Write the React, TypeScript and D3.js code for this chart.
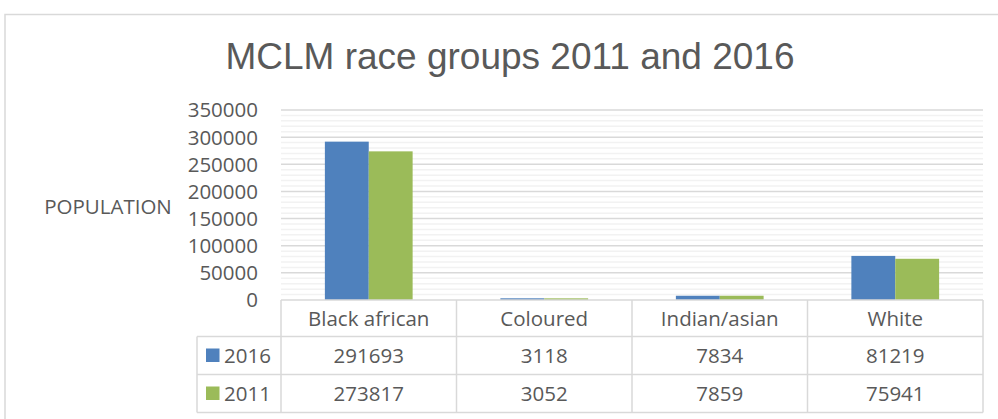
import React from "react";
import * as d3 from "d3";

const categories = ["Black african", "Coloured", "Indian/asian", "White"];
const seriesNames = ["2016", "2011"];
const values2016 = [291693, 3118, 7834, 81219];
const values2011 = [273817, 3052, 7859, 75941];
const seriesColors = ["#4f81bd", "#9bbb59"];
const yTicks = [0, 50000, 100000, 150000, 200000, 250000, 300000, 350000];
const minorTicks = d3.range(0, 350001, 10000);
const title = "MCLM race groups 2011 and 2016";
const yTitle = "POPULATION";

const W = 998;
const H = 419;
const plotLeft = 281;
const plotRight = 983;
const plotTop = 110;
const plotBottom = 300;
const legendLeft = 197;
const rowH = [300, 336.5, 374.5, 412.5];
const textColor = "#595959";
const gridMajor = "#d9d9d9";
const gridMinor = "#f2f2f2";
const font = "'Open Sans', 'Noto Sans', sans-serif";

export default function App() {
  const seriesValues = [values2016, values2011];
  const y = d3.scaleLinear().domain([0, 350000]).range([plotBottom, plotTop]);
  const x = d3.scaleBand<string>().domain(categories).range([plotLeft, plotRight]).paddingInner(0);
  const groupW = x.bandwidth() * 0.5;
  const x1 = d3.scaleBand<string>().domain(seriesNames).range([0, groupW]);
  const groupOff = (x.bandwidth() - groupW) / 2;

  return (
    <svg width={W} height={H} style={{ position: "absolute", left: 0, top: 0, display: "block", background: "#fff" }}>
      <rect x={5} y={14.5} width={W + 10} height={H + 10} fill="#fff" stroke="#d9d9d9" strokeWidth={1.5} />
      <text x={510} y={69} textAnchor="middle" fontFamily="'Liberation Sans', Arial, sans-serif" fontSize={37} fill={textColor}>
        {title}
      </text>
      {/* minor gridlines */}
      {minorTicks.filter((t) => t % 50000 !== 0).map((t) => (
        <line key={"m" + t} x1={plotLeft} x2={plotRight} y1={y(t)} y2={y(t)} stroke={gridMinor} strokeWidth={1.5} />
      ))}
      {yTicks.filter((t) => t !== 0).map((t) => (
        <line key={"g" + t} x1={plotLeft} x2={plotRight} y1={y(t)} y2={y(t)} stroke={gridMajor} strokeWidth={1.5} />
      ))}
      {yTicks.map((t) => (
        <text key={"t" + t} x={258} y={y(t)} dy="0.36em" textAnchor="end" fontFamily={font} fontSize={20.5} fill={textColor}>
          {t}
        </text>
      ))}
      <text x={108} y={207} dy="0.36em" textAnchor="middle" fontFamily={font} fontSize={20.5} fill={textColor}>
        {yTitle}
      </text>
      {/* bars */}
      {categories.map((c, ci) =>
        seriesNames.map((s, si) => {
          const v = seriesValues[si][ci];
          const bx = (x(c) as number) + groupOff + (x1(s) as number);
          return (
            <rect key={c + s} x={bx} y={y(v)} width={x1.bandwidth()} height={y(0) - y(v)} fill={seriesColors[si]} />
          );
        })
      )}
      {/* data table */}
      <g stroke={gridMajor} strokeWidth={1.5} fill="none">
        <line x1={plotLeft} x2={plotRight} y1={rowH[0]} y2={rowH[0]} />
        {rowH.slice(1).map((r, i) => (
          <line key={"r" + i} x1={legendLeft} x2={plotRight} y1={r} y2={r} />
        ))}
        <line x1={legendLeft} x2={legendLeft} y1={rowH[1]} y2={rowH[3]} />
        {categories.map((c) => (
          <line key={"v" + c} x1={x(c) as number} x2={x(c) as number} y1={rowH[0]} y2={rowH[3]} />
        ))}
        <line x1={plotRight} x2={plotRight} y1={rowH[0]} y2={rowH[3]} />
      </g>
      {categories.map((c) => (
        <text key={"h" + c} x={(x(c) as number) + x.bandwidth() / 2} y={(rowH[0] + rowH[1]) / 2} dy="0.36em" textAnchor="middle" fontFamily={font} fontSize={20.5} fill={textColor}>
          {c}
        </text>
      ))}
      {seriesNames.map((s, si) => {
        const cy = (rowH[si + 1] + rowH[si + 2]) / 2;
        return (
          <g key={"row" + s}>
            <rect x={206} y={cy - 7} width={13.5} height={13.5} fill={seriesColors[si]} />
            <text x={224} y={cy} dy="0.36em" fontFamily={font} fontSize={20.5} fill={textColor}>
              {s}
            </text>
            {categories.map((c, ci) => (
              <text key={s + c} x={(x(c) as number) + x.bandwidth() / 2} y={cy} dy="0.36em" textAnchor="middle" fontFamily={font} fontSize={20.5} fill={textColor}>
                {seriesValues[si][ci]}
              </text>
            ))}
          </g>
        );
      })}
    </svg>
  );
}
